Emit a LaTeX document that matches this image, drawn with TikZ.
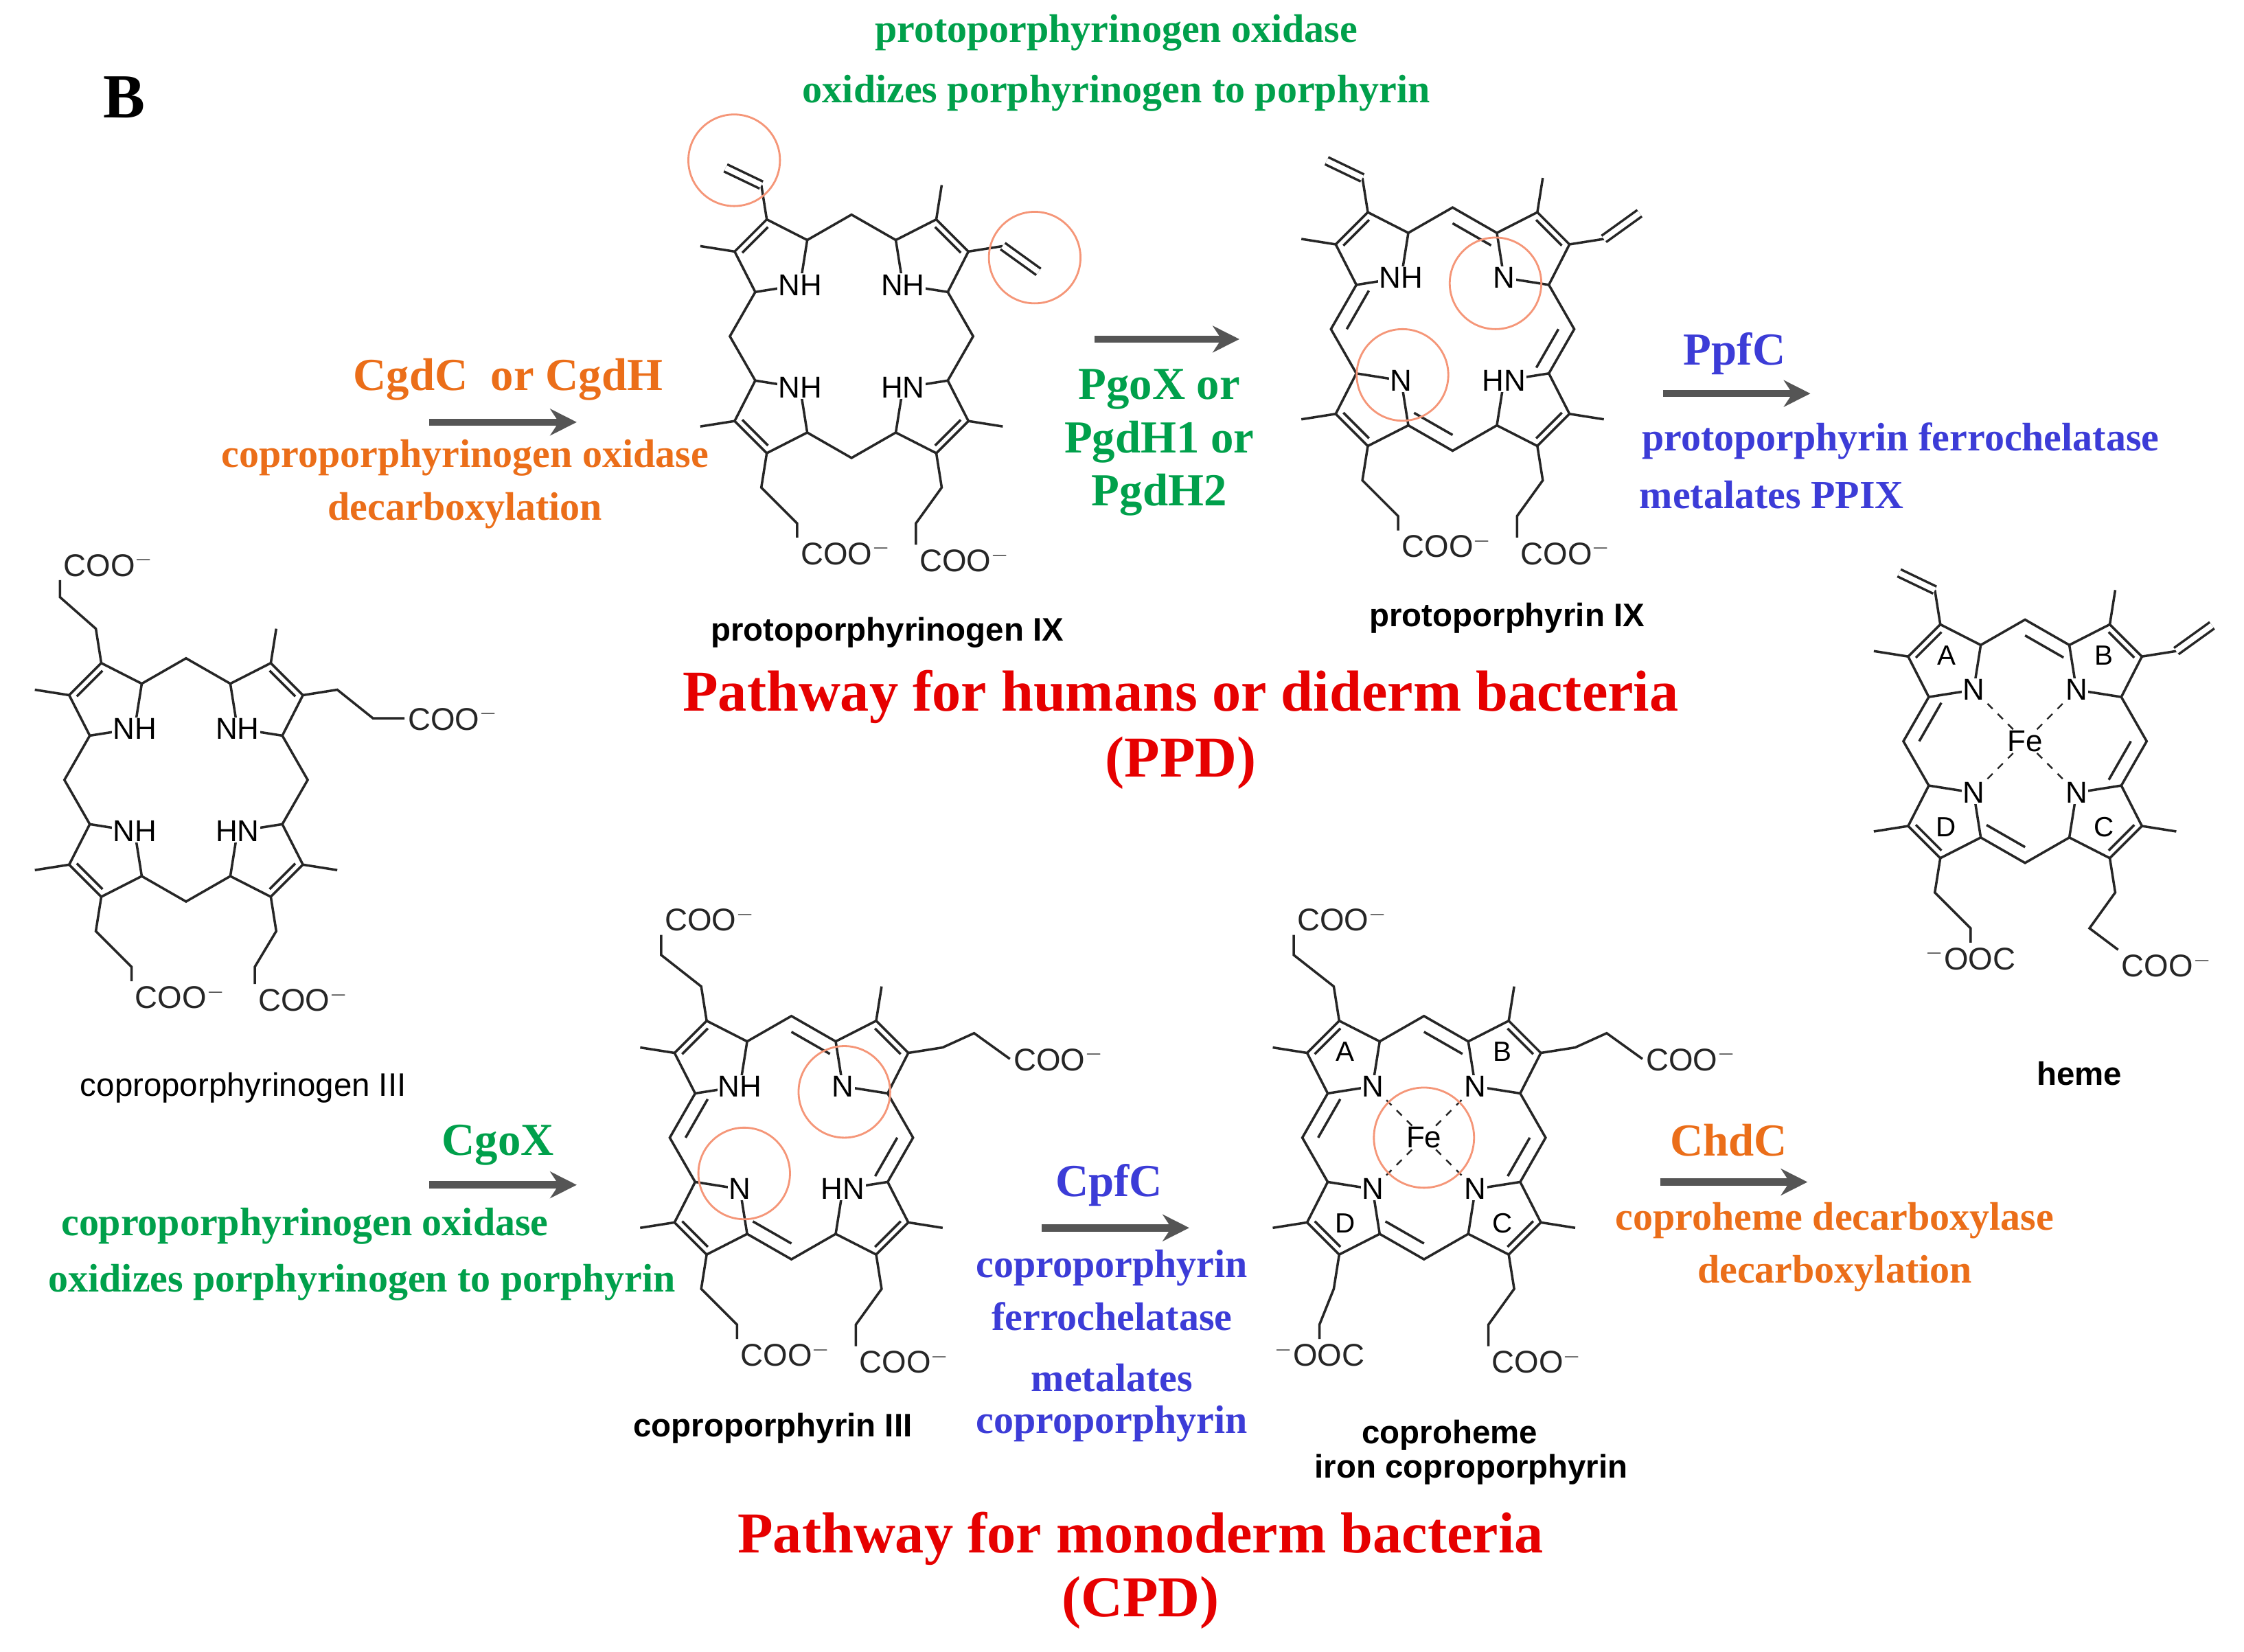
\documentclass[tikz,border=0pt]{standalone}
\usepackage{fontspec}
\setmainfont{Liberation Serif}
\newfontfamily\chemf{Liberation Sans}
\usetikzlibrary{calc,arrows.meta}
\definecolor{cgreen}{RGB}{0,160,75}
\definecolor{corange}{RGB}{235,110,25}
\definecolor{cblue}{RGB}{60,60,215}
\definecolor{cred}{RGB}{230,0,0}
\definecolor{ccirc}{RGB}{245,150,120}
\definecolor{carr}{RGB}{85,85,85}
\tikzset{
 bond/.style={line width=1pt,black!85},
 nlab/.style={fill=white,inner sep=0.4pt,font=\chemf\fontsize{12.5}{12}\selectfont},
 coo/.style={inner sep=1pt,font=\chemf\fontsize{13}{12}\selectfont},
 mlabel/.style={font=\chemf\bfseries\fontsize{13.5}{14}\selectfont},
 mlabelr/.style={font=\chemf\fontsize{13.5}{14}\selectfont},
 enz/.style={font=\bfseries\fontsize{19}{22}\selectfont},
 desc/.style={font=\bfseries\fontsize{16.5}{19}\selectfont},
 path/.style={font=\bfseries\fontsize{24}{27}\selectfont,text=cred},
 arr/.style={line width=3pt,carr,-{Stealth[length=11pt,width=11pt]}},
 hl/.style={ccirc,line width=0.8pt},
}
\newcommand{\pyr}[4]{%
 \coordinate (#1c) at ({#2},{#3});
 \foreach \k in {0,...,4}{\coordinate (#1v\k) at ($(#1c)+(#4+72*\k:27)$);}
 \draw[bond] (#1v0)--(#1v1)--(#1v2)--(#1v3)--(#1v4)--cycle;
 \draw[bond] ($(#1v2)!0.2!(#1c)$)--($(#1v3)!0.2!(#1c)$);
}
\newcommand{\porph}[7]{%
 \coordinate (#1c) at ({#2},{#3});
 \pyr{#1a}{#2-55}{#3-55}{45}
 \pyr{#1b}{#2+55}{#3-55}{135}
 \pyr{#1d}{#2+55}{#3+55}{225}
 \pyr{#1e}{#2-55}{#3+55}{315}
 \coordinate (#1mt) at ({#2},{#3-85});
 \coordinate (#1mr) at ({#2+85},{#3});
 \coordinate (#1mb) at ({#2},{#3+85});
 \coordinate (#1ml) at ({#2-85},{#3});
 \draw[bond] (#1av4)--(#1mt)--(#1bv1) (#1bv4)--(#1mr)--(#1dv1)
   (#1dv4)--(#1mb)--(#1ev1) (#1ev4)--(#1ml)--(#1av1);
 \node[nlab] (#1na) at (#1av0) {#4};
 \node[nlab] (#1nb) at (#1bv0) {#5};
 \node[nlab] (#1nd) at (#1dv0) {#6};
 \node[nlab] (#1ne) at (#1ev0) {#7};
}
\newcommand{\arom}[1]{%
 \draw[bond] ($(#1mt)!0.13!(#1c)$)--($(#1bv1)!0.13!(#1c)$)
  ($(#1mr)!0.13!(#1c)$)--($(#1dv1)!0.13!(#1c)$)
  ($(#1mb)!0.13!(#1c)$)--($(#1ev1)!0.13!(#1c)$)
  ($(#1ml)!0.13!(#1c)$)--($(#1av1)!0.13!(#1c)$);
}
\newcommand{\me}[2]{\draw[bond] (#1v#2)--($(#1c)!1.9!(#1v#2)$);}
\newcommand{\vin}[3]{\draw[bond] (#1v#2)--($(#1c)!1.9!(#1v#2)$) coordinate (#1vx);
 \draw[bond,double,double distance=2.2pt] (#1vx)--++(#3);}
\newcommand{\pro}[6]{\draw[bond] (#1v#2)--($(#1c)!1.9!(#1v#2)$)--++(#3)--++(#4) node[coo,anchor=#6]{#5};}
\newcommand{\fe}[1]{%
 \node[nlab] (#1fe) at (#1c) {Fe};
 \draw[bond,dashed,line width=0.7pt] (#1fe)--(#1na) (#1fe)--(#1nb) (#1fe)--(#1nd) (#1fe)--(#1ne);
 \node[mlabelr,font=\chemf\fontsize{11.5}{11}\selectfont] (#1la) at ($(#1ac)+(0,-5)$) {A};
 \node[mlabelr,font=\chemf\fontsize{11.5}{11}\selectfont] (#1lb) at ($(#1bc)+(0,-5)$) {B};
 \node[mlabelr,font=\chemf\fontsize{11.5}{11}\selectfont] (#1lc) at ($(#1dc)+(0,5)$) {C};
 \node[mlabelr,font=\chemf\fontsize{11.5}{11}\selectfont] (#1ld) at ($(#1ec)+(0,5)$) {D};
}
\begin{document}
\begin{tikzpicture}[x=0.020842cm,y=-0.020842cm]
\useasboundingbox[fill=white] (0,0) rectangle (1568,1154);
\node[font=\bfseries\fontsize{26}{28}\selectfont] (lblB) at (87,68) {B};

% coproporphyrinogen III
\porph{K}{130}{545}{NH}{NH}{HN}{NH}
\me{Ka}{2}\me{Kb}{2}\me{Kd}{2}\me{Ke}{3}
\pro{Ka}{3}{-25,-22}{0,-12}{COO$^-$}{south west}
\pro{Kb}{3}{25,20}{22,0}{COO$^-$}{west}
\pro{Kd}{3}{-15,25}{0,12}{COO$^-$}{north west}
\pro{Ke}{2}{25,25}{0,10}{COO$^-$}{north west}
\node[mlabelr] (Kname) at (170,760) {coproporphyrinogen III};

% protoporphyrinogen IX
\porph{G}{595}{235}{NH}{NH}{HN}{NH}
\me{Ga}{2}\me{Gb}{2}\me{Gd}{2}\me{Ge}{3}
\vin{Ga}{3}{-25,-12}
\vin{Gb}{3}{25,18}
\pro{Gd}{3}{-18,25}{0,15}{COO$^-$}{north west}
\pro{Ge}{2}{25,25}{0,10}{COO$^-$}{north west}
\draw[hl] (513,112) circle (32);
\draw[hl] (723,180) circle (32);
\node[mlabel] (Gname) at (620,442) {protoporphyrinogen IX};

% protoporphyrin IX
\porph{P}{1015}{230}{NH}{N}{HN}{N}
\arom{P}
\me{Pa}{2}\me{Pb}{2}\me{Pd}{2}\me{Pe}{3}
\vin{Pa}{3}{-25,-12}
\vin{Pb}{3}{25,-18}
\pro{Pd}{3}{-18,25}{0,15}{COO$^-$}{north west}
\pro{Pe}{2}{25,25}{0,10}{COO$^-$}{north west}
\draw[hl] (1045,198) circle (32);
\draw[hl] (980,262) circle (32);
\node[mlabel] (Pname) at (1053,432) {protoporphyrin IX};

% heme
\porph{H}{1415}{518}{N}{N}{N}{N}
\arom{H}
\me{Ha}{2}\me{Hb}{2}\me{Hd}{2}\me{He}{3}
\vin{Ha}{3}{-25,-12}
\vin{Hb}{3}{25,-18}
\pro{Hd}{3}{-18,25}{20,15}{COO$^-$}{north west}
\pro{He}{2}{25,25}{0,10}{$^-$OOC}{north}
\fe{H}
\node[mlabel] (Hname) at (1453,750) {heme};

% coproporphyrin III
\porph{C}{553}{795}{NH}{N}{HN}{N}
\arom{C}
\me{Ca}{2}\me{Cb}{2}\me{Cd}{2}\me{Ce}{3}
\pro{Ca}{3}{-28,-22}{0,-14}{COO$^-$}{south west}
\pro{Cb}{3}{22,-10}{25,18}{COO$^-$}{west}
\pro{Cd}{3}{-18,25}{0,15}{COO$^-$}{north west}
\pro{Ce}{2}{25,25}{0,10}{COO$^-$}{north west}
\draw[hl] (590,763) circle (32);
\draw[hl] (520,820) circle (32);
\node[mlabel] (Cname) at (540,998) {coproporphyrin III};

% coproheme
\porph{F}{995}{795}{N}{N}{N}{N}
\arom{F}
\me{Fa}{2}\me{Fb}{2}\me{Fd}{2}\me{Fe}{3}
\pro{Fa}{3}{-28,-22}{0,-14}{COO$^-$}{south west}
\pro{Fb}{3}{22,-10}{25,18}{COO$^-$}{west}
\pro{Fd}{3}{-18,25}{0,15}{COO$^-$}{north west}
\pro{Fe}{2}{-10,25}{0,10}{$^-$OOC}{north}
\fe{F}
\draw[hl] (995,795) circle (35);
\node[mlabel] (Fname1) at (1013,1003) {coproheme};
\node[mlabel] (Fname2) at (1028,1027) {iron coproporphyrin};

% arrows
\coordinate (a1s) at (300,295); \coordinate (a1e) at (403,295);
\coordinate (a2s) at (765,237); \coordinate (a2e) at (866,237);
\coordinate (a3s) at (1162,275); \coordinate (a3e) at (1265,275);
\coordinate (a4s) at (300,828); \coordinate (a4e) at (403,828);
\coordinate (a5s) at (728,858); \coordinate (a5e) at (831,858);
\coordinate (a6s) at (1160,826); \coordinate (a6e) at (1263,826);
\draw[arr] (a1s)--(a1e);
\draw[arr] (a2s)--(a2e);
\draw[arr] (a3s)--(a3e);
\draw[arr] (a4s)--(a4e);
\draw[arr] (a5s)--(a5e);
\draw[arr] (a6s)--(a6e);

% texts
\node[desc,text=cgreen] (t1) at (780,23) {protoporphyrinogen oxidase};
\node[desc,text=cgreen] (t2) at (780,65) {oxidizes porphyrinogen to porphyrin};
\node[enz,text=corange] (t3) at (355,265) {CgdC\ \ or CgdH};
\node[desc,text=corange] (t4) at (325,320) {coproporphyrinogen oxidase};
\node[desc,text=corange] (t5) at (325,357) {decarboxylation};
\node[enz,text=cgreen] (t6) at (810,272) {PgoX or};
\node[enz,text=cgreen] (t7) at (810,309) {PgdH1 or};
\node[enz,text=cgreen] (t8) at (810,346) {PgdH2};
\node[enz,text=cblue] (t9) at (1212,247) {PpfC};
\node[desc,text=cblue] (t10) at (1328,308) {protoporphyrin ferrochelatase};
\node[desc,text=cblue] (t11) at (1238,346) {metalates PPIX};
\node[path] (t12) at (825,487) {Pathway for humans or diderm bacteria};
\node[path] (t13) at (825,533) {(PPD)};
\node[enz,text=cgreen] (t14) at (348,800) {CgoX};
\node[desc,text=cgreen] (t15) at (213,857) {coproporphyrinogen oxidase};
\node[desc,text=cgreen] (t16) at (253,896) {oxidizes porphyrinogen to porphyrin};
\node[enz,text=cblue] (t17) at (775,828) {CpfC};
\node[desc,text=cblue] (t18) at (777,886) {coproporphyrin};
\node[desc,text=cblue] (t19) at (777,920) {ferrochelatase};
\node[desc,text=cblue] (t20) at (777,963) {metalates};
\node[desc,text=cblue] (t21) at (777,995) {coproporphyrin};
\node[enz,text=corange] (t22) at (1208,797) {ChdC};
\node[desc,text=corange] (t23) at (1282,853) {coproheme decarboxylase};
\node[desc,text=corange] (t24) at (1282,890) {decarboxylation};
\node[path] (t25) at (797,1075) {Pathway for monoderm bacteria};
\node[path] (t26) at (797,1120) {(CPD)};
\end{tikzpicture}
\end{document}
